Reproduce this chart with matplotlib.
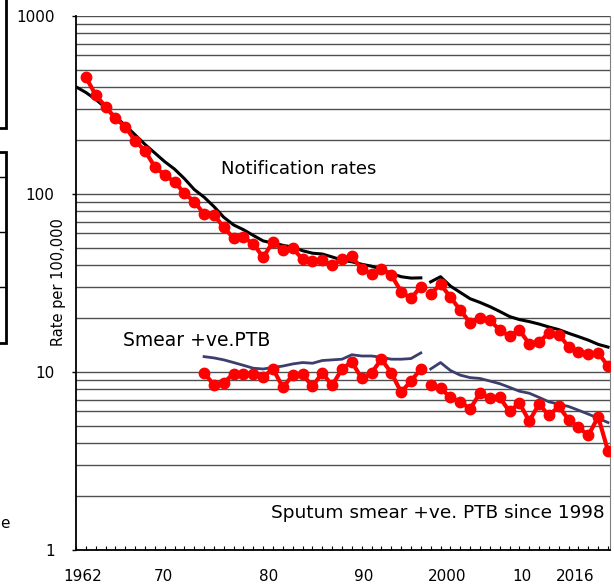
import matplotlib
matplotlib.use("Agg")
import matplotlib.pyplot as plt
from matplotlib.patches import Rectangle
from matplotlib.lines import Line2D
from matplotlib.ticker import FixedLocator, MultipleLocator, NullFormatter

# national notification rate (black line), break at 1998
nat_years_a = list(range(1962, 1998))
nat_rate_a = [400, 372, 340, 305, 272, 243, 215, 190, 170, 152,
              138, 122, 106, 96, 85, 74, 67, 63, 58.5, 54.5,
              53, 51.5, 50.3, 48, 46.5, 46, 44.3, 42.5, 41.6, 40.3,
              39.3, 37.8, 35.8, 34.3, 33.7, 33.8]
nat_years_b = list(range(1998, 2017))
nat_rate_b = [32.1, 34.3, 30.4, 28.0, 25.8, 24.6, 23.3, 21.9, 20.5, 19.7,
              19.2, 18.6, 17.9, 17.3, 16.5, 15.8, 15.1, 14.3, 13.8]

# local notification rate (red dots)
loc_years_a = list(range(1963, 1998))
loc_rate_a = [453, 360, 309, 266, 239, 199, 175, 142, 128, 117,
              101, 90.6, 77.2, 76.2, 65.0, 56.4, 57.1, 52.4, 44.1, 54.0,
              48.4, 49.5, 43.0, 42.1, 42.4, 39.9, 43.0, 44.8, 37.8, 35.6,
              37.8, 35.1, 28.3, 25.9, 30.2]
loc_years_b = list(range(1998, 2017))
loc_rate_b = [27.4, 31.2, 26.3, 22.3, 18.9, 20.0, 19.6, 17.2, 15.9, 17.2,
              14.4, 14.8, 16.5, 16.2, 13.9, 13.0, 12.7, 12.8, 10.8]

# national smear +ve PTB (navy line)
nsm_years_a = list(range(1975, 1998))
nsm_rate_a = [12.2, 12.0, 11.7, 11.3, 10.9, 10.5, 10.4, 10.6, 10.8, 11.1,
              11.3, 11.2, 11.6, 11.7, 11.8, 12.5, 12.3, 12.3, 12.1, 11.8,
              11.8, 11.9, 12.8]
nsm_years_b = list(range(1998, 2017))
nsm_rate_b = [10.4, 11.3, 10.2, 9.6, 9.3, 9.2, 8.9, 8.6, 8.2, 7.8,
              7.6, 7.2, 6.8, 6.6, 6.4, 6.1, 5.8, 5.5, 5.2]

# local smear +ve PTB (red dots)
lsm_years_a = list(range(1975, 1998))
lsm_rate_a = [9.9, 8.45, 8.7, 9.8, 9.7, 9.8, 9.4, 10.4, 8.2, 9.6,
              9.7, 8.3, 9.9, 8.4, 10.4, 11.4, 9.2, 9.9, 11.8, 9.9,
              7.7, 8.9, 10.4]
lsm_years_b = list(range(1998, 2017))
lsm_rate_b = [8.45, 8.1, 7.2, 6.8, 6.2, 7.6, 7.1, 7.2, 6.0, 6.7,
              5.3, 6.6, 5.7, 6.4, 5.4, 4.9, 4.4, 5.6, 3.6]

xtick_pos = [1962.66, 1970.83, 1981.6, 1991.19, 1999.66, 2007.28, 2012.71]
xtick_labels = ['1962', '70', '80', '90', '2000', '10', '2016']

W, H = 614, 585
fig = plt.figure(figsize=(W / 100, H / 100), dpi=100)
ax = fig.add_axes([76 / W, 35 / H, (610 - 76) / W, (550 - 16) / H])

ax.set_yscale('log')
ax.set_ylim(1, 1000)
ax.set_xlim(1962, 2016.2)

red = '#ff0000'
navy = '#3c3f6e'
for xs, ys in [(nat_years_a, nat_rate_a), (nat_years_b, nat_rate_b)]:
    ax.plot(xs, ys, color='black', lw=2.2, zorder=3)
for xs, ys in [(nsm_years_a, nsm_rate_a), (nsm_years_b, nsm_rate_b)]:
    ax.plot(xs, ys, color=navy, lw=2, zorder=3)
for xs, ys in [(loc_years_a, loc_rate_a), (loc_years_b, loc_rate_b),
               (lsm_years_a, lsm_rate_a), (lsm_years_b, lsm_rate_b)]:
    ax.plot(xs, ys, color=red, lw=3, marker='o', ms=7.5, mec=red, mfc=red, zorder=4)

ax.set_axisbelow(True)
ax.grid(which='both', axis='y', color='#505050', lw=1)

ax.set_yticks([1, 10, 100, 1000])
ax.set_yticklabels(['1', '10', '100', '1000'])
ax.yaxis.set_minor_formatter(NullFormatter())
ax.tick_params(axis='y', which='major', direction='out', length=3, width=1, pad=12.5, labelsize=11)
ax.tick_params(axis='y', which='minor', length=0)

ax.xaxis.set_major_locator(FixedLocator(xtick_pos))
ax.set_xticklabels(xtick_labels)
ax.xaxis.set_minor_locator(MultipleLocator(1))
ax.tick_params(axis='x', which='major', length=0, pad=14, labelsize=11)
ax.tick_params(axis='x', which='minor', direction='in', length=3, width=0.8)

ax.spines['top'].set_visible(False)
ax.spines['right'].set_color('#808080')
ax.spines['left'].set_linewidth(1.3)
ax.spines['bottom'].set_linewidth(1.3)

ax.text(1984.6, 138, 'Notification rates', fontsize=13, ha='center', va='center')
ax.text(1974.2, 15.1, 'Smear +ve.PTB', fontsize=13.5, ha='center', va='center')
ax.text(1998.75, 1.61, 'Sputum smear +ve. PTB since 1998', fontsize=13.3, ha='center', va='center')

fig.text(59 / W, 1 - 282 / H, 'Rate per 100,000', rotation=90, fontsize=10.5,
         ha='center', va='center')

# clipped boxes at the left edge of the source picture
def fx(x):
    return x / W

def fy(y):
    return 1 - y / H

fig.add_artist(Rectangle((fx(-20), fy(128)), fx(26), 138 / H, fill=False,
                         ec='black', lw=2, transform=fig.transFigure))
fig.add_artist(Rectangle((fx(-20), fy(343)), fx(26), (343 - 152) / H, fill=False,
                         ec='black', lw=2, transform=fig.transFigure))
for yy in [177, 232, 287]:
    fig.add_artist(Line2D([0, fx(6)], [fy(yy), fy(yy)], color='black', lw=1,
                          transform=fig.transFigure))
fig.text(fx(5), fy(523), 'e', fontsize=11, ha='center', va='center')

fig.savefig('out.png', dpi=100)
